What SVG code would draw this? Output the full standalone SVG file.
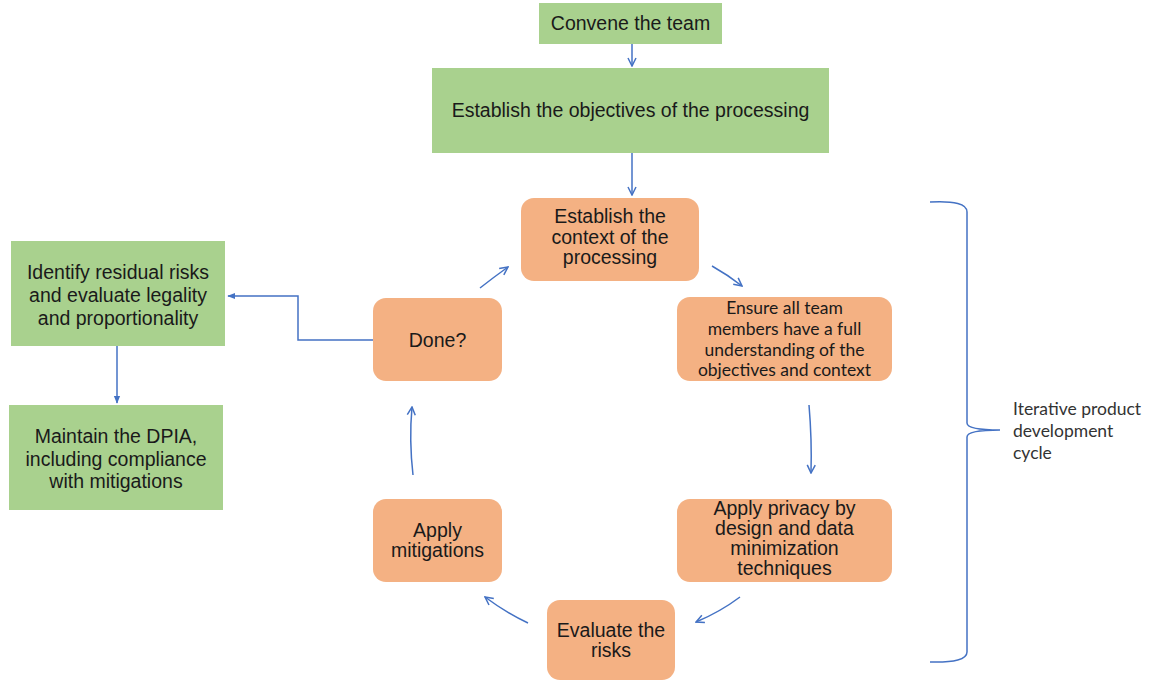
<svg xmlns="http://www.w3.org/2000/svg" width="1153" height="681" viewBox="0 0 1153 681">
<defs>
<style>
.g{fill:#A9D18E}
.o{fill:#F4B183}
.t{font-family:"Liberation Sans",Arial,sans-serif;font-size:19.5px;fill:#1a1a1a;text-anchor:middle}
.c{font-family:Lato,"Open Sans",sans-serif;font-size:17.5px;fill:#1a1a1a;text-anchor:middle}
.lbl{font-family:Lato,"Open Sans",sans-serif;font-size:17.5px;fill:#333}
.e{fill:none;stroke:#4472C4;stroke-width:1.5}
</style>
<marker id="open" viewBox="0 0 10 10" refX="9" refY="5" markerWidth="10" markerHeight="10" markerUnits="userSpaceOnUse" orient="auto">
<path d="M1,1 L9,5 L1,9" fill="none" stroke="#4472C4" stroke-width="1.5"/>
</marker>
<marker id="tri" viewBox="0 0 10 10" refX="9" refY="5" markerWidth="8" markerHeight="8" markerUnits="userSpaceOnUse" orient="auto">
<path d="M0,1 L10,5 L0,9 Z" fill="#4472C4"/>
</marker>
</defs>
<rect width="1153" height="681" fill="#fff"/>
<g id="convene"><rect class="g" x="539" y="3" width="183" height="41"/><text class="t" x="630.5" y="30">Convene the team</text></g>
<g id="objectives"><rect class="g" x="432" y="68" width="397" height="85"/><text class="t" x="630.5" y="117">Establish the objectives of the processing</text></g>
<g id="context"><rect class="o" x="521" y="198" width="178" height="83" rx="13"/><text class="t" x="610" y="223">Establish the</text><text class="t" x="610" y="244">context of the</text><text class="t" x="610" y="264">processing</text></g>
<g id="ensure"><rect class="o" x="677" y="297" width="215" height="84" rx="13"/><text class="c" x="784.5" y="314">Ensure all team</text><text class="c" x="784.5" y="335">members have a full</text><text class="c" x="784.5" y="356">understanding of the</text><text class="c" x="784.5" y="376">objectives and context</text></g>
<g id="privacy"><rect class="o" x="677" y="499" width="215" height="83" rx="13"/><text class="t" x="784.5" y="515">Apply privacy by</text><text class="t" x="784.5" y="535">design and data</text><text class="t" x="784.5" y="555">minimization</text><text class="t" x="784.5" y="575">techniques</text></g>
<g id="evaluate"><rect class="o" x="547" y="600" width="128" height="80" rx="13"/><text class="t" x="611" y="637">Evaluate the</text><text class="t" x="611" y="657">risks</text></g>
<g id="mitigations"><rect class="o" x="373" y="499" width="129" height="83" rx="13"/><text class="t" x="437.5" y="537">Apply</text><text class="t" x="437.5" y="557">mitigations</text></g>
<g id="done"><rect class="o" x="373" y="298" width="129" height="83" rx="13"/><text class="t" x="437.5" y="347">Done?</text></g>
<g id="identify"><rect class="g" x="11" y="241" width="214" height="105"/><text class="t" x="118" y="279">Identify residual risks</text><text class="t" x="118" y="302">and evaluate legality</text><text class="t" x="118" y="325">and proportionality</text></g>
<g id="maintain"><rect class="g" x="9" y="405" width="214" height="105"/><text class="t" x="116" y="443">Maintain the DPIA,</text><text class="t" x="116" y="466">including compliance</text><text class="t" x="116" y="488">with mitigations</text></g>
<g id="cycle-label"><path class="e" d="M930,202 Q967,200 967,212 L967,423 Q967,430 1000,430 Q967,430 967,437 L967,652 Q967,663 930,662"/><text class="lbl" x="1013" y="415">Iterative product</text><text class="lbl" x="1013" y="437">development</text><text class="lbl" x="1013" y="459">cycle</text></g>
<g id="connectors">
<path class="e" d="M632,44 L632,66" marker-end="url(#open)"/>
<path class="e" d="M632,153 L632,195" marker-end="url(#open)"/>
<path class="e" d="M712,266 Q728,275 742,286" marker-end="url(#open)"/>
<path class="e" d="M809,405 Q812,440 811,473" marker-end="url(#open)"/>
<path class="e" d="M740,597 Q720,612 696,622" marker-end="url(#open)"/>
<path class="e" d="M528,623 Q505,612 485,597" marker-end="url(#open)"/>
<path class="e" d="M413,475 Q409,440 412,407" marker-end="url(#open)"/>
<path class="e" d="M480,288 Q494,277 508,267" marker-end="url(#open)"/>
<path class="e" d="M373,340 L298,340 L298,296 L228,296" marker-end="url(#tri)"/>
<path class="e" d="M117,346 L117,403" marker-end="url(#tri)"/>
</g>
</svg>
